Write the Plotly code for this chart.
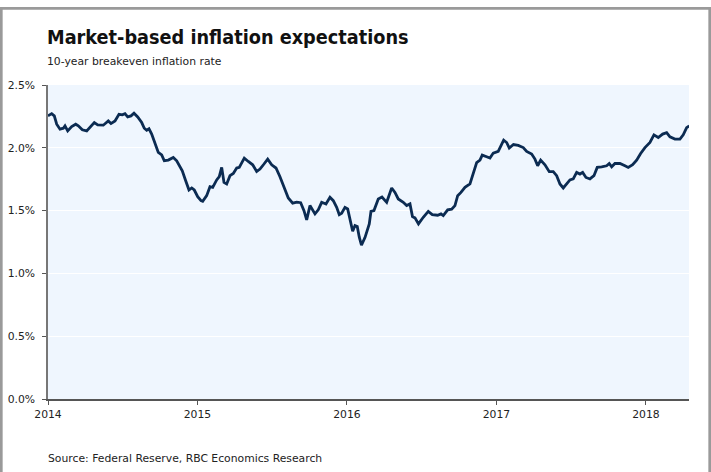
import plotly.graph_objects as go

# decimal years
years = [
    2014.0000, 2014.0247, 2014.0421, 2014.0582, 2014.0803, 2014.1023, 2014.1137, 2014.1318,
    2014.1585, 2014.1853, 2014.2027, 2014.2294, 2014.2589, 2014.2809, 2014.3097, 2014.3324,
    2014.3699, 2014.4033, 2014.4214, 2014.4482, 2014.4749, 2014.4970, 2014.5151, 2014.5331,
    2014.5552, 2014.5753, 2014.6000, 2014.6268, 2014.6441, 2014.6602, 2014.6756, 2014.6936,
    2014.7157, 2014.7378, 2014.7605, 2014.7779, 2014.8047, 2014.8381, 2014.8609, 2014.8829,
    2014.8983, 2014.9211, 2014.9431, 2014.9612, 2014.9786, 2015.0013, 2015.0234, 2015.0348,
    2015.0615, 2015.0836, 2015.1017, 2015.1284, 2015.1458, 2015.1619, 2015.1773, 2015.1953,
    2015.2174, 2015.2395, 2015.2622, 2015.2796, 2015.2957, 2015.3130, 2015.3398, 2015.3692,
    2015.3960, 2015.4181, 2015.4448, 2015.4696, 2015.4963, 2015.5251, 2015.5518, 2015.5786,
    2015.6074, 2015.6368, 2015.6635, 2015.6903, 2015.7124, 2015.7304, 2015.7525, 2015.7860,
    2015.8080, 2015.8308, 2015.8595, 2015.8863, 2015.9084, 2015.9311, 2015.9485, 2015.9645,
    2015.9866, 2016.0047, 2016.0201, 2016.0381, 2016.0535, 2016.0689, 2016.0823, 2016.0970,
    2016.1204, 2016.1492, 2016.1605, 2016.1806, 2016.2094, 2016.2341, 2016.2656, 2016.2990,
    2016.3211, 2016.3431, 2016.3766, 2016.3993, 2016.4214, 2016.4381, 2016.4548, 2016.4783,
    2016.5104, 2016.5438, 2016.5706, 2016.6067, 2016.6288, 2016.6441, 2016.6736, 2016.7003,
    2016.7224, 2016.7405, 2016.7625, 2016.7893, 2016.8227, 2016.8448, 2016.8676, 2016.8896,
    2016.9050, 2016.9344, 2016.9565, 2016.9786, 2017.0120, 2017.0482, 2017.0682, 2017.0856,
    2017.1137, 2017.1458, 2017.1793, 2017.2020, 2017.2355, 2017.2575, 2017.2756, 2017.2957,
    2017.3244, 2017.3532, 2017.3799, 2017.4027, 2017.4247, 2017.4468, 2017.4696, 2017.4916,
    2017.5137, 2017.5365, 2017.5585, 2017.5766, 2017.5987, 2017.6254, 2017.6522, 2017.6742,
    2017.7037, 2017.7371, 2017.7545, 2017.7706, 2017.7926, 2017.8261, 2017.8595, 2017.8816,
    2017.9110, 2017.9378, 2017.9645, 2017.9933, 2018.0268, 2018.0535, 2018.0823, 2018.1117,
    2018.1385, 2018.1605, 2018.1940, 2018.2274, 2018.2495, 2018.2722, 2018.2896,
]

breakeven = [
    2.254, 2.272, 2.254, 2.188, 2.148, 2.156, 2.175, 2.135,
    2.169, 2.188, 2.175, 2.143, 2.135, 2.161, 2.201, 2.183,
    2.180, 2.214, 2.193, 2.214, 2.267, 2.262, 2.272, 2.246,
    2.254, 2.275, 2.246, 2.201, 2.156, 2.140, 2.151, 2.109,
    2.042, 1.963, 1.944, 1.897, 1.902, 1.923, 1.897, 1.844,
    1.817, 1.738, 1.664, 1.680, 1.664, 1.611, 1.579, 1.574,
    1.619, 1.690, 1.685, 1.744, 1.770, 1.844, 1.725, 1.712,
    1.778, 1.796, 1.839, 1.844, 1.883, 1.918, 1.891, 1.865,
    1.812, 1.831, 1.871, 1.910, 1.865, 1.839, 1.770, 1.685,
    1.601, 1.559, 1.567, 1.563, 1.500, 1.426, 1.540, 1.474,
    1.506, 1.566, 1.553, 1.606, 1.579, 1.526, 1.468, 1.479,
    1.526, 1.513, 1.421, 1.336, 1.381, 1.373, 1.288, 1.225,
    1.285, 1.394, 1.494, 1.500, 1.593, 1.608, 1.566, 1.680,
    1.645, 1.593, 1.566, 1.540, 1.553, 1.452, 1.442, 1.394,
    1.447, 1.494, 1.468, 1.463, 1.474, 1.460, 1.506, 1.511,
    1.540, 1.619, 1.645, 1.685, 1.712, 1.804, 1.883, 1.902,
    1.942, 1.929, 1.918, 1.958, 1.971, 2.061, 2.042, 1.998,
    2.026, 2.019, 2.002, 1.971, 1.950, 1.910, 1.857, 1.902,
    1.865, 1.810, 1.810, 1.778, 1.712, 1.680, 1.717, 1.744,
    1.752, 1.804, 1.791, 1.804, 1.764, 1.752, 1.778, 1.844,
    1.849, 1.857, 1.875, 1.849, 1.875, 1.875, 1.857, 1.844,
    1.865, 1.902, 1.955, 2.002, 2.042, 2.103, 2.082, 2.109,
    2.121, 2.087, 2.069, 2.069, 2.103, 2.161, 2.175,
]

year_ticks = [2014, 2015, 2016, 2017, 2018]
y_ticks = [0.0, 0.5, 1.0, 1.5, 2.0, 2.5]

title_text = "<b>Market-based inflation expectations</b>"
subtitle_text = "10-year breakeven inflation rate"
source_text = "Source: Federal Reserve, RBC Economics Research"

TITLE_FONT = "DejaVu Sans Condensed"
FONT = "DejaVu Sans"
FS = 10.8

fig = go.Figure()
fig.add_trace(go.Scatter(
    x=years, y=breakeven, mode="lines",
    line=dict(color="#0B2B52", width=2.8),
    showlegend=False, hoverinfo="skip",
))

W, H = 711, 472
L, R, T, B = 48, 22, 85, 73
pw, ph = W - L - R, H - T - B

def px_x(px):
    return (px - L) / pw

def px_y(py):
    return (H - B - py) / ph

fig.update_layout(
    width=W, height=H,
    margin=dict(l=L, r=R, t=T, b=B, autoexpand=False),
    paper_bgcolor="white",
    plot_bgcolor="#EFF6FE",
    font=dict(family=FONT, size=FS, color="#222222"),
    xaxis=dict(
        range=[2014, 2018.288],
        tickmode="array", tickvals=year_ticks,
        ticktext=[str(y) for y in year_ticks],
        ticks="outside", ticklen=4, tickcolor="#555555", tickwidth=1,
        showline=True, linecolor="#555555", linewidth=1.5,
        showgrid=False, zeroline=False, automargin=False,
        tickfont=dict(family=FONT, size=FS, color="#222222"),
    ),
    yaxis=dict(
        range=[0, 2.5],
        tickmode="array", tickvals=y_ticks,
        ticktext=[f"{v:.1f}%" for v in y_ticks],
        ticks="outside", ticklen=4, tickcolor="#555555", tickwidth=1,
        showline=True, linecolor="#777777", linewidth=1.5,
        showgrid=True, gridcolor="white", gridwidth=1,
        zeroline=False, automargin=False,
        ticklabelstandoff=5,
        tickfont=dict(family=FONT, size=FS, color="#222222"),
    ),
    annotations=[
        dict(text=title_text, xref="paper", yref="paper", x=px_x(45), y=px_y(37),
             xanchor="left", yanchor="middle", showarrow=False,
             font=dict(family=TITLE_FONT, size=19.7, color="#111111")),
        dict(text=subtitle_text, xref="paper", yref="paper", x=px_x(45), y=px_y(62),
             xanchor="left", yanchor="middle", showarrow=False,
             font=dict(family=FONT, size=FS, color="#222222")),
        dict(text=source_text, xref="paper", yref="paper", x=px_x(46), y=px_y(458),
             xanchor="left", yanchor="middle", showarrow=False,
             font=dict(family=FONT, size=FS, color="#222222")),
    ],
    shapes=[
        dict(type="rect", xref="paper", yref="paper",
             x0=px_x(1.3), x1=px_x(709.7), y0=px_y(490), y1=px_y(8.3),
             line=dict(color="#9A9A9A", width=2.7), fillcolor="rgba(0,0,0,0)", layer="below"),
    ],
)

fig.write_html("out.html")
